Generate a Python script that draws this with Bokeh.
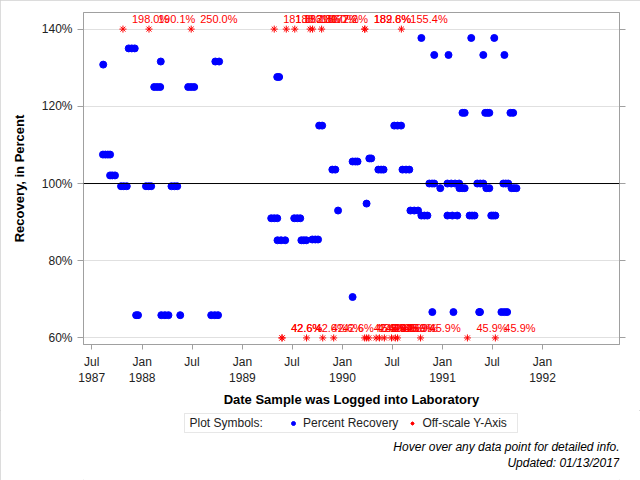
import pandas as pd
from bokeh.plotting import figure
from bokeh.layouts import column
from bokeh.models import (ColumnDataSource, Range1d, FixedTicker, LinearAxis, Span, Label,
                          Legend, LegendItem, BoxAnnotation, CustomJSTickFormatter,
                          PrintfTickFormatter)
from bokeh.core.properties import value
from bokeh.embed import file_html
from bokeh.resources import INLINE

FONT = "Liberation Sans"

# ---------------- data ----------------
rec_dates = [
    "1987-08-12",
    "1987-08-11", "1987-08-20", "1987-08-29", "1987-09-06",
    "1987-09-06", "1987-09-14", "1987-09-24",
    "1987-10-16", "1987-10-26", "1987-11-06",
    "1987-11-13", "1987-11-24", "1987-12-05",
    "1987-12-10", "1987-12-17",
    "1988-01-15", "1988-01-25", "1988-02-03",
    "1988-02-14", "1988-02-25", "1988-03-07",
    "1988-03-09",
    "1988-03-11", "1988-03-24", "1988-04-06",
    "1988-04-17", "1988-04-28", "1988-05-08",
    "1988-05-19",
    "1988-06-17", "1988-06-28", "1988-07-09",
    "1988-09-09", "1988-09-22", "1988-10-04",
    "1988-09-24", "1988-10-08",
    "1989-04-16", "1989-04-27", "1989-05-08",
    "1989-05-08", "1989-05-15",
    "1989-05-09", "1989-05-22", "1989-06-06",
    "1989-07-09", "1989-07-20", "1989-07-31",
    "1989-08-04", "1989-08-13", "1989-08-22",
    "1989-09-13", "1989-09-24", "1989-10-04",
    "1989-10-08", "1989-10-19",
    "1989-11-25", "1989-12-06",
    "1989-12-16",
    "1990-02-07",
    "1990-02-07", "1990-02-17", "1990-02-25",
    "1990-03-30",
    "1990-04-09", "1990-04-16",
    "1990-05-12", "1990-05-22", "1990-05-31",
    "1990-07-09", "1990-07-21", "1990-08-03",
    "1990-08-08", "1990-08-21", "1990-09-02",
    "1990-09-06", "1990-09-20", "1990-10-04",
    "1990-10-16", "1990-10-27", "1990-11-07",
    "1990-10-16",
    "1990-11-14", "1990-11-24", "1990-12-02",
    "1990-12-02",
    "1990-11-25",
    "1990-12-24",
    "1991-01-19", "1991-02-02", "1991-02-16", "1991-03-03",
    "1991-01-19", "1991-02-06", "1991-02-24",
    "1991-01-23",
    "1991-02-10",
    "1991-03-04", "1991-03-14", "1991-03-23",
    "1991-03-15", "1991-03-23",
    "1991-04-10", "1991-04-19", "1991-04-28",
    "1991-04-16",
    "1991-05-08", "1991-05-19", "1991-05-30",
    "1991-05-15", "1991-05-18",
    "1991-05-30",
    "1991-06-06", "1991-06-14", "1991-06-21",
    "1991-06-10", "1991-06-21",
    "1991-06-28", "1991-07-05", "1991-07-13",
    "1991-07-09",
    "1991-08-04", "1991-08-15", "1991-08-25",
    "1991-08-11", "1991-08-20", "1991-08-29",
    "1991-08-15",
    "1991-09-06", "1991-09-16",
    "1991-09-10", "1991-09-19", "1991-09-28",
]
rec_values = [
    130.8,
    107.5, 107.5, 107.5, 107.5,
    102.1, 102.1, 102.1,
    99.3, 99.3, 99.3,
    135.0, 135.0, 135.0,
    65.9, 65.9,
    99.3, 99.3, 99.3,
    125.0, 125.0, 125.0,
    131.6,
    65.9, 65.9, 65.9,
    99.3, 99.3, 99.3,
    65.9,
    125.0, 125.0, 125.0,
    65.9, 65.9, 65.9,
    131.6, 131.6,
    91.0, 91.0, 91.0,
    127.6, 127.6,
    85.3, 85.3, 85.3,
    91.0, 91.0, 91.0,
    85.3, 85.3, 85.3,
    85.5, 85.5, 85.5,
    115.0, 115.0,
    103.6, 103.6,
    93.0,
    70.6,
    105.7, 105.7, 105.7,
    94.8,
    106.5, 106.5,
    103.6, 103.6, 103.6,
    115.0, 115.0, 115.0,
    103.6, 103.6, 103.6,
    93.0, 93.0, 93.0,
    91.7, 91.7, 91.7,
    137.7,
    100.0, 100.0, 100.0,
    133.3,
    66.7,
    98.8,
    100.0, 100.0, 100.0, 100.0,
    91.7, 91.7, 91.7,
    133.3,
    66.7,
    98.8, 98.8, 98.8,
    118.3, 118.3,
    91.7, 91.7, 91.7,
    137.7,
    100.0, 100.0, 100.0,
    66.7, 66.7,
    133.3,
    118.3, 118.3, 118.3,
    98.8, 98.8,
    91.7, 91.7, 91.7,
    137.7,
    66.7, 66.7, 66.7,
    100.0, 100.0, 100.0,
    133.3,
    118.3, 118.3,
    98.8, 98.8, 98.8,
]

# off-scale high values (drawn on the 140% line)
high_dates = ["1987-10-23", "1988-01-26", "1988-06-28", "1989-04-27", "1989-06-10",
              "1989-07-11", "1989-09-05", "1989-09-14", "1989-10-17", "1990-03-23",
              "1990-03-24", "1990-08-04"]
high_labels = ["198.0%", "190.1%", "250.0%", "181.8%", "188.2%",
               "183.3%", "180.0%", "186.7%", "172.2%", "189.6%",
               "182.8%", "155.4%"]
high_cap = 140

# off-scale low values (drawn on the 60% line)
low_dates = ["1989-05-25", "1989-05-26", "1989-08-23", "1989-10-21", "1989-11-30",
             "1990-03-23", "1990-03-30", "1990-04-07", "1990-05-04", "1990-05-16",
             "1990-06-03", "1990-06-29", "1990-07-13", "1990-07-21", "1990-10-13",
             "1991-04-02", "1991-07-13"]
low_labels = ["42.6%", "42.6%", "42.6%", "42.6%", "42.6%",
              "42.6%", "45.9%", "42.6%", "45.9%", "42.6%",
              "45.9%", "42.6%", "45.9%", "45.9%", "45.9%",
              "45.9%", "45.9%"]
low_cap = 60

x_ticks = ["1987-07-01", "1988-01-01", "1988-07-01", "1989-01-01", "1989-07-01",
           "1990-01-01", "1990-07-01", "1991-01-01", "1991-07-01", "1992-01-01"]
y_ticks = [60, 80, 100, 120, 140]

footnotes = ["Hover over any data point for detailed info.", "Updated: 01/13/2017"]

# ---------------- main figure ----------------
def ms(d):
    return pd.Timestamp(d).value // 10**6

p = figure(width=640, height=410, output_backend="svg", toolbar_location=None,
           x_axis_type="datetime",
           x_range=Range1d(ms("1987-06-01"), ms("1992-10-08")),
           y_range=Range1d(58.3, 144.3),
           min_border_left=83, min_border_right=21, min_border_top=12,
           min_border_bottom=65)
p.background_fill_color = "white"
p.border_fill_color = "white"
p.outline_line_color = "#a0a0a0"

rec_src = ColumnDataSource(dict(x=pd.to_datetime(rec_dates), y=rec_values))
hi_src = ColumnDataSource(dict(x=pd.to_datetime(high_dates), y=[high_cap] * len(high_dates),
                               t=high_labels))
lo_src = ColumnDataSource(dict(x=pd.to_datetime(low_dates), y=[low_cap] * len(low_dates),
                               t=low_labels))

p.xgrid.visible = False
p.ygrid.ticker = FixedTicker(ticks=[60, 80, 120, 140])
p.ygrid.grid_line_color = "#e0e0e0"
p.add_layout(Span(location=100, dimension="width", line_color="black", line_width=1))

p.scatter("x", "y", source=rec_src, size=7, color="#0000ff", line_color="#0000ff")
for src in (hi_src, lo_src):
    p.scatter("x", "y", source=src, marker="asterisk", size=7,
              line_color="#ff0000", line_width=1)
    p.text("x", "y", text="t", source=src, text_color="#ff0000", text_font_size="11px",
           text_font=value(FONT), x_offset=9, y_offset=-10, text_baseline="middle",
           text_align="left")

xa = p.xaxis[0]
xa.ticker = FixedTicker(ticks=[ms(d) for d in x_ticks])
xa.formatter = CustomJSTickFormatter(code="""
const d = new Date(tick);
const jan = d.getUTCMonth() == 0;
const m = jan ? "Jan" : "Jul";
return (jan || index == 0) ? m + "\\n" + d.getUTCFullYear() : m;
""")
xa.axis_label = "Date Sample was Logged into Laboratory"
ya = p.yaxis[0]
ya.ticker = FixedTicker(ticks=y_ticks)
ya.formatter = PrintfTickFormatter(format="%d%%")
ya.axis_label = "Recovery, in Percent"
ya.axis_label_standoff = 12
for ax in (xa, ya):
    ax.axis_line_color = "#a0a0a0"
    ax.major_tick_line_color = "#a0a0a0"
    ax.minor_tick_line_color = None
    ax.major_tick_in = 0
    ax.major_label_text_font = FONT
    ax.major_label_text_font_size = "12px"
    ax.major_label_text_color = "#222222"
    ax.axis_label_text_font = FONT
    ax.axis_label_text_font_size = "13px"
    ax.axis_label_text_font_style = "bold"
    ax.axis_label_text_color = "black"
xa.major_tick_out = 5
ya.major_tick_out = 6
xa.axis_label_standoff = 4

ra = LinearAxis(ticker=FixedTicker(ticks=y_ticks),
                formatter=CustomJSTickFormatter(code="return '';"),
                major_label_standoff=0,
                major_tick_in=0, major_tick_out=6, major_tick_line_color="#a0a0a0",
                minor_tick_line_color=None, axis_line_color="#a0a0a0")
p.add_layout(ra, "right")

# ---------------- legend / footnote strip ----------------
# frame of this strip is aligned with the main frame (canvas px 83..619),
# so its x range is expressed in canvas pixels
q = figure(width=640, height=70, output_backend="svg", toolbar_location=None,
           x_range=Range1d(83, 619), y_range=Range1d(0, 70),
           x_axis_location=None, y_axis_location=None,
           min_border_left=83, min_border_right=21, min_border_top=0, min_border_bottom=0)
q.grid.visible = False
q.outline_line_color = None
q.background_fill_color = "white"
q.border_fill_color = "white"

q.add_layout(BoxAnnotation(left=184, right=517, bottom=48, top=67, fill_color=None,
                           fill_alpha=0, line_color="#b0b0b0", line_width=1))
q.add_layout(Label(x=189, y=57.5, text="Plot Symbols:", text_font=FONT,
                   text_font_size="12px", text_color="#222222", text_baseline="middle"))
proxy_blue = q.scatter(x=[-1000], y=[-1000], size=7, color="#0000ff")
proxy_red = q.scatter(x=[-1000], y=[-1000], marker="asterisk", size=7,
                      line_color="#ff0000", line_width=1)
legend = Legend(items=[LegendItem(label="Percent Recovery", renderers=[proxy_blue]),
                       LegendItem(label="Off-scale Y-Axis", renderers=[proxy_red])],
                orientation="horizontal", location=(205, 49.5), border_line_color=None,
                background_fill_alpha=0, label_text_font=FONT, label_text_font_size="12px",
                label_text_color="#222222", glyph_width=10, glyph_height=16,
                label_height=16, label_standoff=5, spacing=9, padding=0, margin=0)
q.add_layout(legend)

for txt, yy in zip(footnotes, [34, 17.5]):
    q.add_layout(Label(x=619, y=yy, text=txt, text_font=FONT, text_font_size="12px",
                       text_font_style="italic", text_color="black",
                       text_align="right", text_baseline="middle"))

layout = column(p, q, spacing=0)
layout.styles = {"outline": "1px solid #d0d0d0", "outline-offset": "-1px"}

open("out.html", "w").write(file_html(layout, INLINE))
